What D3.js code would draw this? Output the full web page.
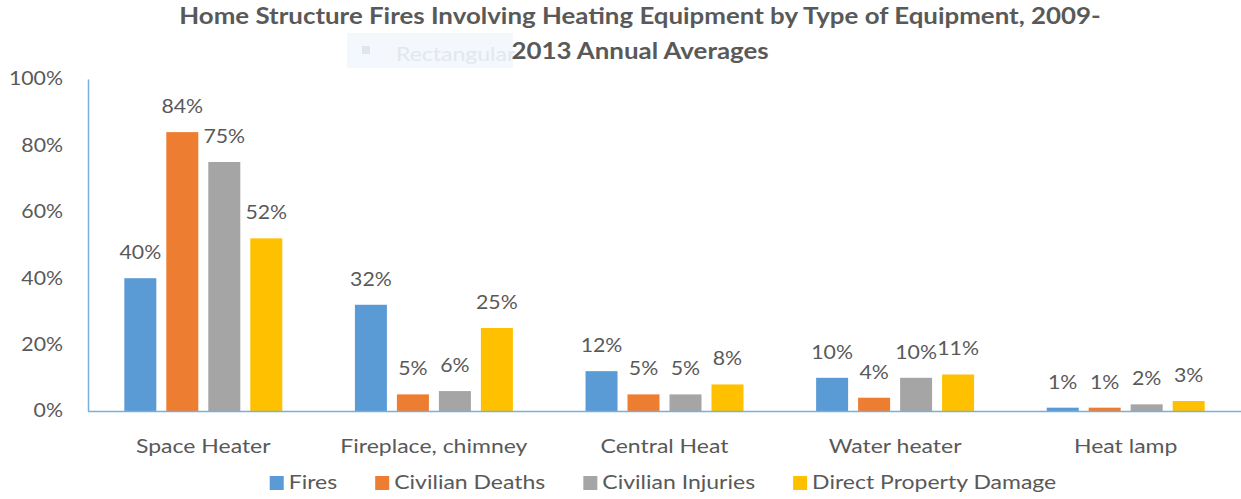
<!DOCTYPE html>
<html>
<head>
<meta charset="utf-8">
<script src="https://cdn.jsdelivr.net/npm/d3@7"></script>
<style>
  html, body { margin: 0; padding: 0; background: #fff; }
  svg { display: block; }
  text { font-family: Lato, "Open Sans", sans-serif; fill: #595959; }
</style>
</head>
<body>
<svg id="chart" width="1241" height="499"></svg>
<script>
// Home structure fires involving heating equipment, 2009-2013 annual averages
const categories = ["Space Heater", "Fireplace, chimney", "Central Heat", "Water heater", "Heat lamp"];
const seriesNames = ["Fires", "Civilian Deaths", "Civilian Injuries", "Direct Property Damage"];
const fires            = [0.40, 0.32, 0.12, 0.10, 0.01];
const civilianDeaths   = [0.84, 0.05, 0.05, 0.04, 0.01];
const civilianInjuries = [0.75, 0.06, 0.05, 0.10, 0.02];
const propertyDamage   = [0.52, 0.25, 0.08, 0.11, 0.03];
const yTicks = [0, 0.2, 0.4, 0.6, 0.8, 1.0];
const titleLines = ["Home Structure Fires Involving Heating Equipment by Type of Equipment, 2009-", "2013 Annual Averages"];

const seriesValues = [fires, civilianDeaths, civilianInjuries, propertyDamage];
const colors = ["#5B9BD5", "#ED7D31", "#A5A5A5", "#FFC000"];

const plot = { left: 88, right: 1241, top: 79, bottom: 411 };
const SX = 1.15; // horizontal stretch applied to all text

const svg = d3.select("#chart");

const x0 = d3.scaleBand().domain(categories).range([plot.left, plot.right])
  .paddingInner(0.315).paddingOuter(0.1575);
const x1 = d3.scaleBand().domain(seriesNames).range([0, x0.bandwidth()])
  .paddingInner(0.238).paddingOuter(0);
const y = d3.scaleLinear().domain([0, 1]).range([plot.bottom, plot.top]);

// faint floating shape label, partly hidden behind the title box
const ghost = svg.append("g");
ghost.append("clipPath").attr("id", "ghostClip")
  .append("rect").attr("x", 347).attr("y", 33).attr("width", 166).attr("height", 35);
ghost.append("rect").attr("x", 347).attr("y", 33).attr("width", 166).attr("height", 35).attr("fill", "#f4f7fb");
ghost.append("rect").attr("x", 362).attr("y", 46).attr("width", 8).attr("height", 8).attr("fill", "#dfe5ee");
ghost.append("text").attr("x", 396).attr("y", 61).attr("font-size", 20)
  .attr("clip-path", "url(#ghostClip)").style("fill", "#e2e7ee").text("Rectangular");

// title
const title = svg.append("g");
title.selectAll("text").data(titleLines).join("text")
  .attr("x", 640).attr("y", (d, i) => 24 + i * 35)
  .attr("text-anchor", "middle")
  .attr("font-size", 22.5).attr("font-weight", "bold")
  .text(d => d);

// y axis
const yAxis = d3.axisLeft(y).tickValues(yTicks).tickFormat(d3.format(".0%")).tickSize(0).tickPadding(25);
const yg = svg.append("g").attr("transform", `translate(${plot.left},0)`).call(yAxis);
yg.select(".domain").attr("stroke", "#7AAEDD").attr("stroke-width", 1.5);
yg.selectAll(".tick text").attr("font-size", 18.5).attr("font-family", null).style("fill", "#595959");

// bars
const groups = svg.append("g").selectAll("g").data(categories).join("g")
  .attr("transform", d => `translate(${x0(d)},0)`);
groups.selectAll("rect").data((c, ci) => seriesNames.map((s, si) => ({ s, si, v: seriesValues[si][ci] })))
  .join("rect")
  .attr("x", d => x1(d.s)).attr("width", x1.bandwidth())
  .attr("y", d => y(d.v)).attr("height", d => y(0) - y(d.v))
  .attr("fill", d => colors[d.si]);

// value labels
groups.selectAll("text").data((c, ci) => seriesNames.map((s, si) => ({ s, si, v: seriesValues[si][ci] })))
  .join("text")
  .attr("x", d => x1(d.s) + x1.bandwidth() / 2)
  .attr("y", d => y(d.v) - 19)
  .attr("text-anchor", "middle").attr("font-size", 18.5)
  .text(d => d3.format(".0%")(d.v));

// x baseline
svg.append("line").attr("x1", plot.left).attr("x2", plot.right)
  .attr("y1", plot.bottom + 0.5).attr("y2", plot.bottom + 0.5)
  .attr("stroke", "#7AAEDD").attr("stroke-width", 1.5);

// category labels
svg.append("g").selectAll("text").data(categories).join("text")
  .attr("x", d => x0(d) + x0.bandwidth() / 2).attr("y", 453)
  .attr("text-anchor", "middle").attr("font-size", 20)
  .text(d => d);

// legend
const legend = svg.append("g");
const items = legend.selectAll("g").data(seriesNames).join("g");
items.append("rect").attr("width", 14).attr("height", 14).attr("y", 476).attr("fill", (d, i) => colors[i]);
items.append("text").attr("x", 19).attr("y", 489).attr("font-size", 20).text(d => d);

// stretch all text horizontally around its anchor
function stretch(sel) {
  sel.each(function () {
    const t = d3.select(this);
    const tx = +t.attr("x") || 0;
    const ty = +t.attr("y") || 0;
    const prev = t.attr("transform") || "";
    t.attr("transform", `${prev} translate(${tx},${ty}) scale(${SX},1) translate(${-tx},${-ty})`);
  });
}
svg.selectAll("text").call(stretch);

// lay out legend entries in a centred row
const widths = items.nodes().map(n => 19 + n.querySelector("text").getBBox().width * SX);
const gap = 38;
const total = d3.sum(widths) + gap * (widths.length - 1);
let cx = 663 - total / 2;
items.attr("transform", (d, i) => {
  const xPos = cx;
  cx += widths[i] + gap;
  return `translate(${xPos},0)`;
});
</script>
</body>
</html>
